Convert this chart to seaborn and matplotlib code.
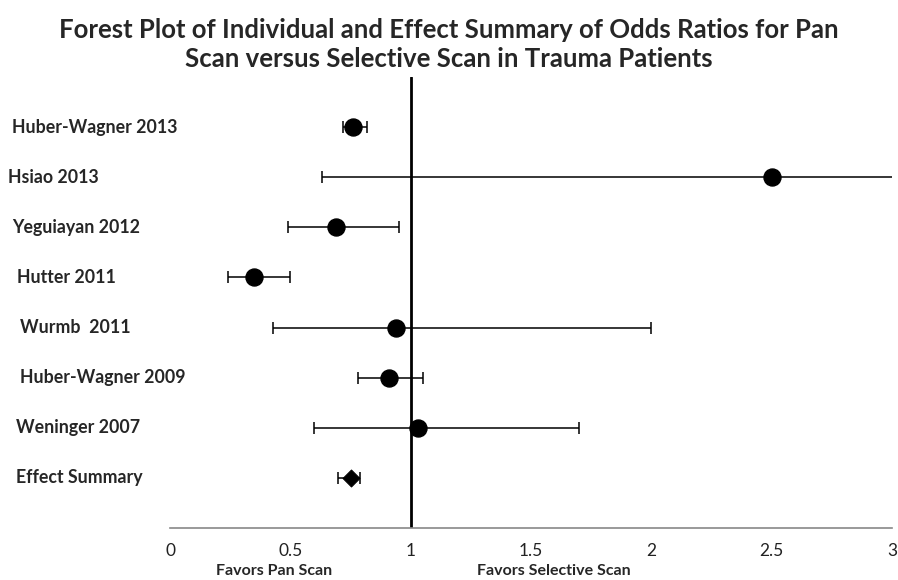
import numpy as np
import pandas as pd
import seaborn as sns
import matplotlib.pyplot as plt
from matplotlib.transforms import blended_transform_factory

studies = [
    "Huber-Wagner 2013",
    "Hsiao 2013",
    "Yeguiayan 2012",
    "Hutter 2011",
    "Wurmb  2011",
    "Huber-Wagner 2009",
    "Weninger 2007",
    "Effect Summary",
]
odds_ratio = [0.76, 2.50, 0.69, 0.35, 0.94, 0.91, 1.03, 0.75]
ci_low = [0.72, 0.63, 0.49, 0.24, 0.43, 0.78, 0.60, 0.70]
ci_high = [0.82, 3.50, 0.95, 0.50, 2.00, 1.05, 1.70, 0.79]
kind = ["study"] * 7 + ["summary"]
xticks = [0, 0.5, 1, 1.5, 2, 2.5, 3]
xtick_labels = ["0", "0.5", "1", "1.5", "2", "2.5", "3"]

df = pd.DataFrame({
    "Study": studies,
    "OR": odds_ratio,
    "Low": ci_low,
    "High": ci_high,
    "Kind": kind,
})
df["Row"] = np.arange(len(df))

sns.set_style("white")
plt.rcParams["font.family"] = ["Lato", "DejaVu Sans"]

fig = plt.figure(figsize=(8.98, 5.8), dpi=100)
ax = fig.add_axes([170 / 898, 52 / 580, 722 / 898, 451 / 580])

# reference line at OR = 1
ax.axvline(1, color="black", lw=2, zorder=1)

# confidence intervals
ax.errorbar(
    df["OR"], df["Row"],
    xerr=[df["OR"] - df["Low"], df["High"] - df["OR"]],
    fmt="none", ecolor="black", elinewidth=1.1, capsize=4, capthick=1.1, zorder=2,
)

studies_df = df[df["Kind"] == "study"]
summary_df = df[df["Kind"] == "summary"]
sns.scatterplot(data=studies_df, x="OR", y="Row", marker="o", s=150,
                color="black", edgecolor="black", legend=False, ax=ax, zorder=3)
sns.scatterplot(data=summary_df, x="OR", y="Row", marker="D", s=75,
                color="black", edgecolor="black", legend=False, ax=ax, zorder=3)

ax.set_xlim(0, 3)
ax.set_ylim(8, -1)
ax.set_yticks([])
ax.set_xticks(xticks)
ax.set_xticklabels(xtick_labels, fontsize=12.5, color="#222222")
ax.set_xlabel("")
ax.set_ylabel("")
ax.tick_params(axis="x", direction="out", length=5, color="#888888", width=1, pad=6)
for side in ["top", "right", "left"]:
    ax.spines[side].set_visible(False)
ax.spines["bottom"].set_color("#888888")
ax.spines["bottom"].set_linewidth(1.2)

# study labels on the left
label_x = [12, 8, 12, 17, 20, 20, 16, 16]
trans = blended_transform_factory(fig.transFigure, ax.transData)
for i, name in enumerate(studies):
    ax.text(label_x[i] / 898, i, name, transform=trans, clip_on=False,
            fontsize=12.8, fontweight="bold", va="center", ha="left")

fig.text(274 / 898, 9 / 580, "Favors Pan Scan", fontsize=11.5, fontweight="bold",
         ha="center", va="center")
fig.text(554 / 898, 9 / 580, "Favors Selective Scan", fontsize=11.5, fontweight="bold",
         ha="center", va="center")

fig.text(0.5, 1 - 30 / 580, "Forest Plot of Individual and Effect Summary of Odds Ratios for Pan",
         fontsize=18.5, fontweight="bold", ha="center", va="center")
fig.text(0.5, 1 - 59 / 580, "Scan versus Selective Scan in Trauma Patients",
         fontsize=18.5, fontweight="bold", ha="center", va="center")

fig.savefig("out.png", dpi=100)
